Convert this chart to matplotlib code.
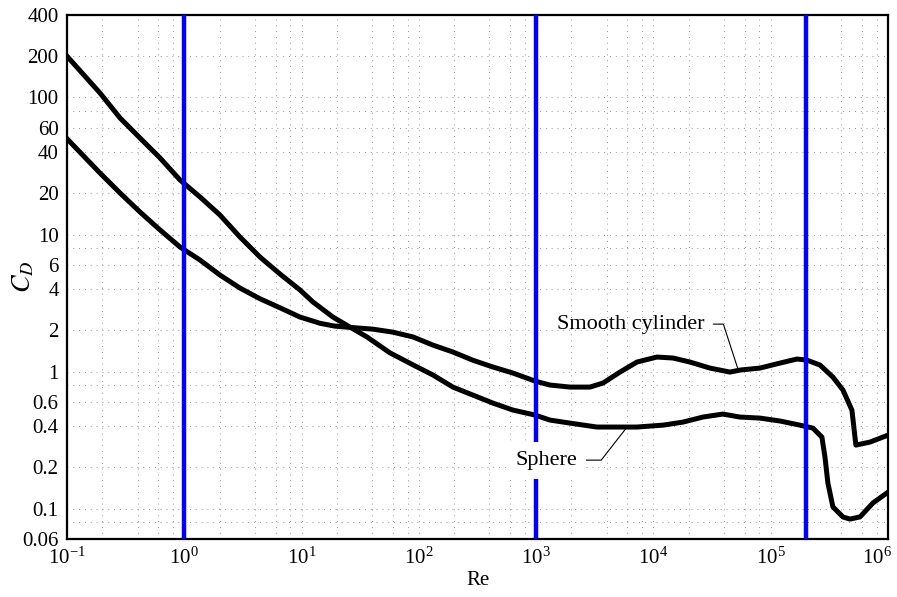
import numpy as np
import matplotlib
matplotlib.use("Agg")
import matplotlib.pyplot as plt
import matplotlib.transforms as mtransforms
from matplotlib.ticker import FixedLocator, NullFormatter, LogFormatterSciNotation

plt.rcParams['font.family'] = ['Liberation Serif', 'DejaVu Serif']
plt.rcParams['mathtext.fontset'] = 'stix'

# values
re_sphere = [0.1, 0.191, 0.283, 0.419, 0.621, 0.919, 1.36, 2.01, 2.98, 4.42, 6.55,
             9.69, 12.5, 18.5, 25.9, 36.1, 56.7, 89.1, 132, 195, 289, 428, 634, 977,
             1311, 1942, 3298, 4884, 7233, 1.21e4, 1.78e4, 2.64e4, 3.9e4, 5.46e4,
             8.09e4, 1.2e5, 1.77e5, 2.29e5, 2.73e5, 2.9e5, 3.07e5, 3.39e5, 4.13e5,
             4.73e5, 5.76e5, 7.43e5, 1e6]
cd_sphere = [200, 107.8, 70.9, 50.6, 36.2, 25.0, 18.8, 13.9, 9.6, 6.85, 5.15,
             3.94, 3.22, 2.50, 2.11, 1.79, 1.37, 1.12, 0.944, 0.771, 0.674, 0.589, 0.524, 0.482,
             0.443, 0.421, 0.394, 0.394, 0.394, 0.407, 0.428, 0.466, 0.49, 0.466,
             0.458, 0.436, 0.407, 0.387, 0.333, 0.238, 0.154, 0.103, 0.087,
             0.084, 0.087, 0.110, 0.132]

re_cyl = [0.1, 0.191, 0.283, 0.419, 0.621, 0.919, 1.36, 2.01, 2.98, 4.42, 6.55,
          9.69, 14.4, 19, 24.4, 40.6, 60.1, 89.1, 132, 195, 289, 428, 634, 977,
          1311, 1942, 2874, 3710, 5182, 7233, 1.07e4, 1.47e4, 2.05e4, 3.03e4, 4.49e4,
          5.46e4, 8.09e4, 1.2e5, 1.67e5, 2.03e5, 2.63e5, 3.39e5, 4.13e5, 4.92e5,
          5.32e5, 7.01e5, 1e6]
cd_cyl = [50, 28.1, 20.1, 14.6, 10.8, 8.11, 6.52, 5.07, 4.07, 3.4, 2.92,
          2.50, 2.25, 2.15, 2.11, 2.04, 1.94, 1.79, 1.56, 1.39, 1.21, 1.08, 0.976, 0.853,
          0.798, 0.771, 0.771, 0.825, 0.992, 1.174, 1.277, 1.256, 1.174, 1.061, 0.992,
          1.026, 1.061, 1.154, 1.235, 1.214, 1.116, 0.912, 0.733, 0.524,
          0.291, 0.306, 0.344]

blue_re = [1, 1e3, 2e5]

xtick_vals = [1e-1, 1e0, 1e1, 1e2, 1e3, 1e4, 1e5, 1e6]
ytick_vals = [400, 200, 100, 60, 40, 20, 10, 6, 4, 2, 1, 0.6, 0.4, 0.2, 0.1, 0.06]
ytick_labels = ['400', '200', '100', '60', '40', '20', '10', '6', '4', '2', '1',
                '0.6', '0.4', '0.2', '0.1', '0.06']

fig = plt.figure(figsize=(8.97, 5.97), dpi=100)
ax = fig.add_axes([0.0747, 0.097, 0.9153, 0.878])

ax.set_xscale('log')
ax.set_yscale('log')
ax.set_xlim(0.1, 1e6)
ax.set_ylim(0.06, 400)

# sparse dotted grid like the scanned chart (1, 2, 4, 6, 8 per decade)
grid_x = [m * 10.0 ** e for e in range(-1, 6) for m in (2, 4, 6, 8)]
ax.xaxis.set_major_locator(FixedLocator(xtick_vals))
ax.xaxis.set_major_formatter(LogFormatterSciNotation())
ax.xaxis.set_minor_locator(FixedLocator(grid_x))
ax.xaxis.set_minor_formatter(NullFormatter())
ax.yaxis.set_major_locator(FixedLocator(ytick_vals))
ax.set_yticklabels(ytick_labels)
ax.yaxis.set_minor_locator(FixedLocator([0.08, 0.8, 8, 80]))
ax.yaxis.set_minor_formatter(NullFormatter())
ax.grid(True, which='both', color='0.45', linestyle=(0, (1, 6)), linewidth=0.6)
ax.tick_params(which='both', length=0, labelsize=15, pad=6)

ax.plot(re_cyl, cd_cyl, color='black', linewidth=3.6, solid_joinstyle='round', zorder=3)
ax.plot(re_sphere, cd_sphere, color='black', linewidth=3.6, solid_joinstyle='round', zorder=3)

for r in blue_re:
    ax.axvline(r, color='#0000ff', linewidth=3.2, zorder=4)

for s in ax.spines.values():
    s.set_linewidth(1.6)

ax.annotate('Smooth cylinder', xy=(5.3e4, 1.02), xytext=(2.75e4, 2.22),
            fontsize=16, ha='right', va='center', zorder=5,
            arrowprops=dict(arrowstyle='-', color='black', lw=0.8,
                            connectionstyle='angle,angleA=0,angleB=108,rad=0',
                            shrinkA=4, shrinkB=0))
ax.annotate('Sphere', xy=(5900, 0.39), xytext=(2230, 0.226),
            fontsize=16, ha='right', va='center', zorder=5,
            bbox=dict(boxstyle='square,pad=0.4', facecolor='white', edgecolor='none'),
            arrowprops=dict(arrowstyle='-', color='black', lw=0.8,
                            connectionstyle='angle,angleA=0,angleB=52,rad=0',
                            shrinkA=0, shrinkB=0))

ax.set_xlabel('Re', fontsize=15)
ax.set_ylabel('$C_D$', fontsize=19)
ax.xaxis.set_label_coords(0.5, -0.06)
ax.yaxis.set_label_coords(-0.038, 0.5)

# keep the last x tick label inside the figure
fig.canvas.draw()
last = ax.get_xticklabels()[-1]
last.set_horizontalalignment('right')
last.set_transform(last.get_transform() + mtransforms.ScaledTranslation(3 / 72, 0, fig.dpi_scale_trans))

fig.savefig('out.png', dpi=100)
